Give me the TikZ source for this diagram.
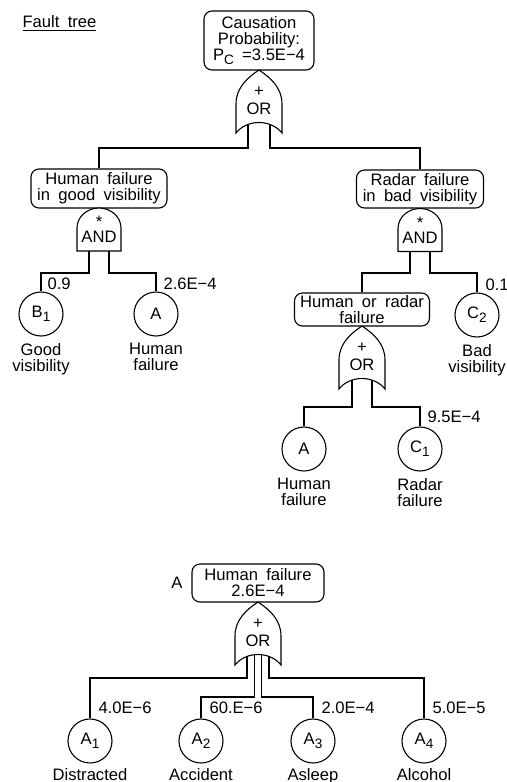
\documentclass[tikz,border=0pt]{standalone}
\usepackage{fontspec}
\setmainfont[WordSpace=1.8]{Liberation Sans}
\usetikzlibrary{positioning}
\newcommand{\idx}[1]{\raisebox{-0.45ex}{\fontsize{6.8}{7}\selectfont #1}}

\begin{document}
\begin{tikzpicture}[x=0.5pt,y=-0.5pt,line width=0.55pt,
        font=\fontsize{8.3}{8}\selectfont,
        event/.style={draw, rounded corners=4pt, align=center, inner sep=0pt},
        basic/.style={draw, circle, minimum size=22pt, inner sep=0pt},
        prob/.style={anchor=west, inner sep=0pt},
        lbl/.style={align=center, inner sep=0pt},
        orgate/.pic={
            \draw[fill=white] (0,0) .. controls (-12,8) and (-23,18) .. (-23,34) -- (-23,63)
                .. controls (-12,49) and (12,49) .. (23,63) -- (23,34)
                .. controls (23,18) and (12,8) .. (0,0) -- cycle;
            \node[inner sep=0pt] (-sym) at (0,22) {+};
            \node[inner sep=0pt] (-lbl) at (0,39) {OR};
        },
        andgate/.pic={
            \draw[fill=white] (-22,43) -- (-22,20) arc[start angle=-180, end angle=0, x radius=22, y radius=20] -- (22,43) -- cycle;
            \node[inner sep=0pt] (-sym) at (0,14) {*};
            \node[inner sep=0pt] (-lbl) at (0,29) {AND};
        }]
        \useasboundingbox (0,0) rectangle (507,782);
        \node[anchor=base west, inner sep=0pt] (title) at (22,27) {\underline{Fault\ tree}};

        % upper tree
        \node[event, minimum width=55pt, minimum height=29.5pt] (top) at (259,40.5) {Causation\\Probability:\\P\idx{C} =3.5E−4};
        \node[event, minimum width=68pt, minimum height=19.5pt] (hgv) at (99,188.5) {Human failure\\in good visibility};
        \node[event, minimum width=63.5pt, minimum height=19pt] (rbv) at (420,189) {Radar failure\\in bad visibility};
        \node[event, minimum width=67.5pt, minimum height=16.5pt] (hrf) at (362,309.5) {Human or radar\\failure};

        \node[basic] (b1) at (41,314) {B\idx{1}};
        \node[basic] (ha) at (156,314) {A};
        \node[basic] (c2) at (477,315) {C\idx{2}};
        \node[basic] (hb) at (304,449) {A};
        \node[basic] (c1) at (420,449) {C\idx{1}};

        \node[lbl, below=3pt of b1] (b1-t) {Good\\visibility};
        \node[lbl, below=3pt of ha] (ha-t) {Human\\failure};
        \node[lbl, below=3pt of c2] (c2-t) {Bad\\visibility};
        \node[lbl, below=3pt of hb] (hb-t) {Human\\failure};
        \node[lbl, below=3pt of c1] (c1-t) {Radar\\failure};

        \node[prob] (b1-p) at (47,284) {0.9};
        \node[prob] (ha-p) at (163,284) {2.6E−4};
        \node[prob] (c2-p) at (485,285) {0.1};
        \node[prob] (c1-p) at (427,417) {9.5E−4};

        \coordinate (or1a) at (248,120);
        \coordinate (or1b) at (270,120);
        \coordinate (and1a) at (89,251);
        \coordinate (and1b) at (109,251);
        \coordinate (and2a) at (410,251);
        \coordinate (and2b) at (430,251);
        \coordinate (or2a) at (352,376);
        \coordinate (or2b) at (372,376);

        \draw (or1a) -- ++(0,28) -| (hgv);
        \draw (or1b) -- ++(0,28) -| (rbv);
        \draw (and1a) -- ++(0,22) -| (b1);
        \draw (and1b) -- ++(0,22) -| (ha);
        \draw (and2a) -- ++(0,22) -| (hrf);
        \draw (and2b) -- ++(0,22) -| (c2);
        \draw (or2a) -- ++(0,31) -| (hb);
        \draw (or2b) -- ++(0,31) -| (c1);

        \pic (or1) at (259,70) {orgate};
        \pic (and1) at (99,208) {andgate};
        \pic (and2) at (420,208.5) {andgate};
        \pic (or2) at (362,326) {orgate};

        % lower tree
        \node[event, minimum width=66pt, minimum height=19pt] (hf) at (258,583) {Human failure\\2.6E−4};
        \node[inner sep=0pt] (hf-a) at (177,583) {A};

        \foreach \n/\x/\p/\t in {1/90/4.0E−6/Distracted, 2/201/60.E−6/Accident, 3/313/2.0E−4/Asleep, 4/424/5.0E−5/Alcohol} {
            \node[basic] (a\n) at (\x,741) {A\idx{\n}};
            \node[lbl, below=2pt of a\n] (a\n-t) {\t};
            \node[prob] (a\n-p) at (\x+8,708) {\p};
        }

        \coordinate (or3a) at (247,652);
        \coordinate (or3b) at (254.5,652);
        \coordinate (or3c) at (261.5,652);
        \coordinate (or3d) at (269,652);

        \draw (or3a) -- ++(0,26) -| (a1);
        \draw (or3b) -- ++(0,45) -| (a2);
        \draw (or3c) -- ++(0,45) -| (a3);
        \draw (or3d) -- ++(0,26) -| (a4);

        \pic (or3) at (258,602) {orgate};
\end{tikzpicture}
\end{document}
